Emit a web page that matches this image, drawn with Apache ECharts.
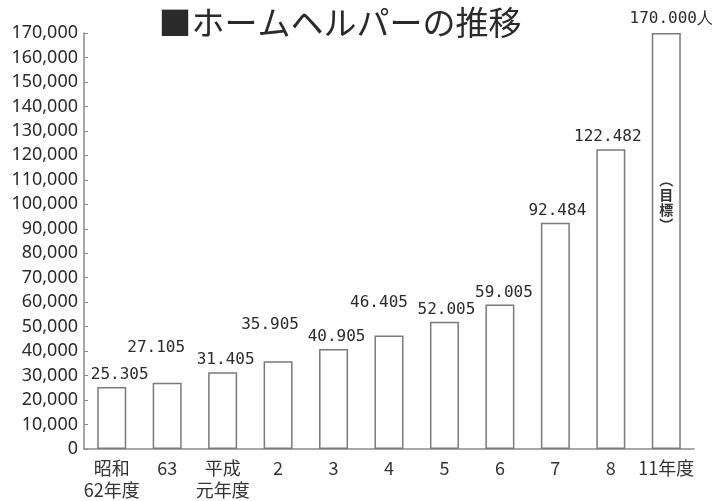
<!DOCTYPE html>
<html>
<head>
<meta charset="utf-8">
<style>
  html, body { margin: 0; padding: 0; background: #ffffff; }
  #chart { width: 719px; height: 501px; }
</style>
<script src="https://cdn.jsdelivr.net/npm/echarts@6/dist/echarts.min.js"></script>
</head>
<body>
<div id="chart"></div>
<script>
// Fiscal years (last one is the target year)
const categories = ['昭和\n62年度', '63', '平成\n元年度', '2', '3', '4', '5', '6', '7', '8', '11年度'];
// Number of home helpers
const helpers = [25305, 27105, 31405, 35905, 40905, 46405, 52005, 59005, 92484, 122482, 170000];
const unitLabel = '人';
const targetNote = '︵\n目\n標\n︶';

// Value-label nudges [dx, dy] so neighbouring labels do not collide
const labelShift = [[8, 0], [-11, -23], [3, 0], [-8, -24], [3, 0], [-10, -21], [2, 0], [4, 0], [2, 0], [-3, 0], [5, -2]];

function dotted(v) {
  return String(v).replace(/\B(?=(\d{3})+(?!\d))/g, '.');
}

const chart = echarts.init(document.getElementById('chart'));

const barData = helpers.map((v, i) => ({
  value: v,
  label: {
    offset: labelShift[i],
    formatter: () => dotted(v) + (i === helpers.length - 1 ? unitLabel : '')
  }
}));

chart.setOption({
  animation: false,
  backgroundColor: '#ffffff',
  title: {
    text: '■ホームヘルパーの推移',
    left: 335,
    top: 1,
    textAlign: 'center',
    textStyle: {
      fontFamily: 'Noto Sans CJK JP',
      fontSize: 33,
      fontWeight: 'normal',
      color: '#2a2a2a'
    }
  },
  grid: { left: 84, right: 25, top: 33, bottom: 50 },
  xAxis: {
    type: 'category',
    data: categories,
    axisLine: { lineStyle: { color: '#8a8a8a', width: 1.5 } },
    axisTick: { show: false },
    axisLabel: {
      fontFamily: 'Noto Sans CJK JP',
      fontSize: 18,
      color: '#333',
      lineHeight: 22,
      margin: 8,
      interval: 0
    }
  },
  yAxis: {
    type: 'value',
    min: 0,
    max: 170000,
    interval: 10000,
    splitLine: { show: false },
    axisLine: { show: true, lineStyle: { color: '#8a8a8a', width: 1.5 } },
    axisTick: { show: true, inside: true, length: 4, lineStyle: { color: '#8a8a8a' } },
    axisLabel: {
      fontFamily: 'Noto Sans',
      fontSize: 18,
      color: '#2a2a2a',
      margin: 6,
      formatter: v => v.toLocaleString('en-US')
    }
  },
  series: [{
    type: 'bar',
    data: barData,
    barWidth: 29,
    itemStyle: { color: '#ffffff', borderColor: '#7a7a7a', borderWidth: 1.5 },
    label: {
      show: true,
      position: 'top',
      distance: 4,
      fontFamily: 'DejaVu Sans Mono',
      fontSize: 16,
      color: '#2a2a2a'
    },
    markPoint: {
      symbol: 'rect',
      symbolSize: 0,
      data: [{ coord: [categories.length - 1, 101000], value: 0 }],
      label: {
        show: true,
        position: 'inside',
        formatter: targetNote,
        fontFamily: 'Noto Sans CJK JP',
        fontSize: 14,
        fontWeight: 'bold',
        lineHeight: 15,
        color: '#333'
      }
    }
  }]
});
</script>
</body>
</html>
